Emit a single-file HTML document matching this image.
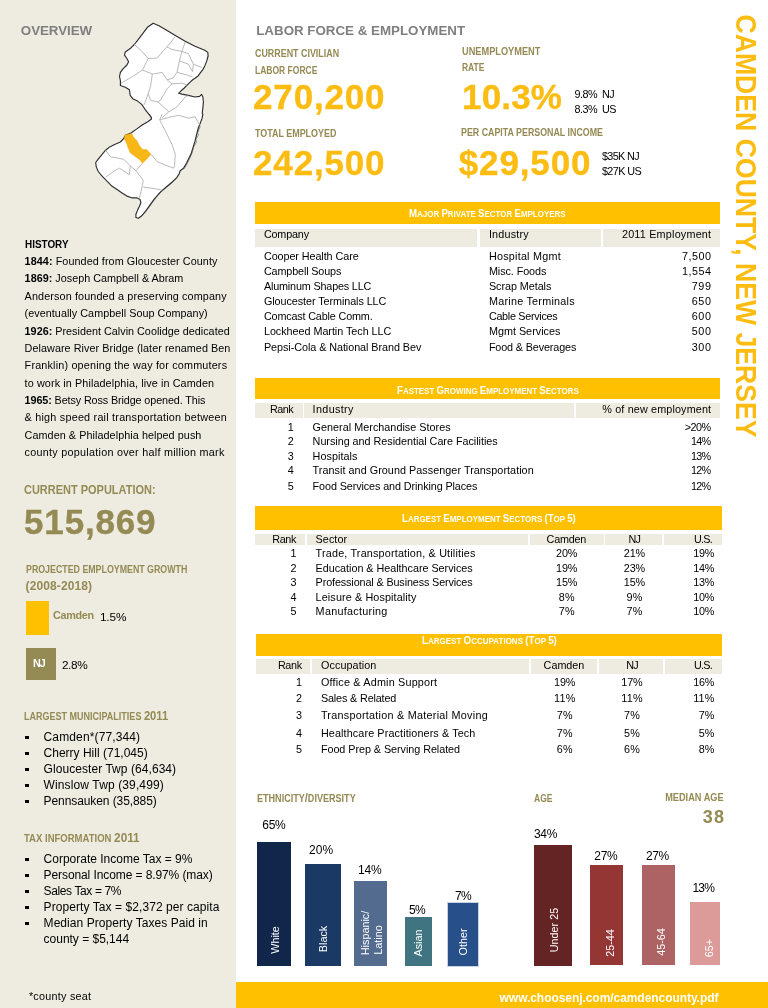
<!DOCTYPE html>
<html lang="en"><head><meta charset="utf-8"><title>Camden County, New Jersey</title>
<style>
html,body{margin:0;padding:0;}
body{width:768px;height:1008px;position:relative;overflow:hidden;background:#fff;font-family:'Liberation Sans',sans-serif;}
.b{position:absolute;}
.t{position:absolute;white-space:pre;line-height:1;}
.bt{color:#fff;font-weight:700;font-size:9.3px;text-align:center;letter-spacing:-0.1px;}
.r{transform:translate(-50%,-50%) rotate(-90deg);}
.vt{left:744.7px;top:226.3px;font-size:29px;font-weight:700;color:#FCBC12;transform:translate(-50%,-50%) rotate(90deg) scaleX(0.918);}
</style></head>
<body>
<div class="b" style="left:0.00px;top:0.00px;width:236.00px;height:1008.00px;background:#EEECE1;"></div>
<div class="b" style="left:236.00px;top:982.30px;width:532.00px;height:25.70px;background:#FFC000;"></div>
<div class="b" style="left:26.00px;top:601.00px;width:23.30px;height:34.00px;background:#FFC000;"></div>
<div class="b" style="left:26.00px;top:648.00px;width:30.00px;height:32.00px;background:#948A54;"></div>
<div class="b" style="left:25.30px;top:735.50px;width:3.30px;height:3.30px;background:#000;"></div>
<div class="b" style="left:25.30px;top:751.50px;width:3.30px;height:3.30px;background:#000;"></div>
<div class="b" style="left:25.30px;top:767.80px;width:3.30px;height:3.30px;background:#000;"></div>
<div class="b" style="left:25.30px;top:783.80px;width:3.30px;height:3.30px;background:#000;"></div>
<div class="b" style="left:25.30px;top:799.50px;width:3.30px;height:3.30px;background:#000;"></div>
<div class="b" style="left:25.30px;top:857.50px;width:3.30px;height:3.30px;background:#000;"></div>
<div class="b" style="left:25.30px;top:873.50px;width:3.30px;height:3.30px;background:#000;"></div>
<div class="b" style="left:25.30px;top:889.50px;width:3.30px;height:3.30px;background:#000;"></div>
<div class="b" style="left:25.30px;top:905.80px;width:3.30px;height:3.30px;background:#000;"></div>
<div class="b" style="left:25.30px;top:921.50px;width:3.30px;height:3.30px;background:#000;"></div>
<div class="b" style="left:255.00px;top:202.10px;width:465.00px;height:22.20px;background:#FFC000;"></div>
<div class="b" style="left:255.00px;top:377.90px;width:465.00px;height:21.50px;background:#FFC000;"></div>
<div class="b" style="left:255.00px;top:506.30px;width:467.00px;height:23.30px;background:#FFC000;"></div>
<div class="b" style="left:256.00px;top:634.00px;width:466.00px;height:21.60px;background:#FFC000;"></div>
<div class="b" style="left:255.00px;top:228.70px;width:222.30px;height:18.80px;background:#EEECE1;"></div>
<div class="b" style="left:479.70px;top:228.70px;width:121.60px;height:18.80px;background:#EEECE1;"></div>
<div class="b" style="left:603.30px;top:228.70px;width:116.70px;height:18.80px;background:#EEECE1;"></div>
<div class="b" style="left:255.00px;top:403.30px;width:47.50px;height:15.00px;background:#EEECE1;"></div>
<div class="b" style="left:304.40px;top:403.30px;width:269.60px;height:15.00px;background:#EEECE1;"></div>
<div class="b" style="left:576.00px;top:403.30px;width:144.00px;height:15.00px;background:#EEECE1;"></div>
<div class="b" style="left:255.00px;top:533.80px;width:50.20px;height:11.40px;background:#EEECE1;"></div>
<div class="b" style="left:307.40px;top:533.80px;width:220.80px;height:11.40px;background:#EEECE1;"></div>
<div class="b" style="left:530.00px;top:533.80px;width:73.60px;height:11.40px;background:#EEECE1;"></div>
<div class="b" style="left:605.40px;top:533.80px;width:56.30px;height:11.40px;background:#EEECE1;"></div>
<div class="b" style="left:663.70px;top:533.80px;width:58.30px;height:11.40px;background:#EEECE1;"></div>
<div class="b" style="left:256.00px;top:659.40px;width:54.00px;height:14.60px;background:#EEECE1;"></div>
<div class="b" style="left:312.00px;top:659.40px;width:217.00px;height:14.60px;background:#EEECE1;"></div>
<div class="b" style="left:531.00px;top:659.40px;width:65.70px;height:14.60px;background:#EEECE1;"></div>
<div class="b" style="left:598.70px;top:659.40px;width:64.60px;height:14.60px;background:#EEECE1;"></div>
<div class="b" style="left:665.30px;top:659.40px;width:56.70px;height:14.60px;background:#EEECE1;"></div>
<div class="b" style="left:256.70px;top:842.00px;width:34.30px;height:123.70px;background:#12254A;"></div>
<div class="b" style="left:305.00px;top:864.00px;width:36.00px;height:101.70px;background:#1A3965;"></div>
<div class="b" style="left:354.30px;top:881.00px;width:33.00px;height:84.70px;background:#526B8F;"></div>
<div class="b" style="left:405.30px;top:917.30px;width:26.70px;height:48.40px;background:#3F7480;"></div>
<div class="b" style="left:447.70px;top:902.70px;width:30.60px;height:63.00px;background:#27508A;box-shadow:0 0 0 1px #c9d3e3;"></div>
<div class="b" style="left:534.00px;top:844.50px;width:37.70px;height:121.00px;background:#632423;"></div>
<div class="b" style="left:589.70px;top:864.70px;width:33.60px;height:100.80px;background:#943634;"></div>
<div class="b" style="left:641.70px;top:864.70px;width:33.60px;height:100.80px;background:#AD6364;"></div>
<div class="b" style="left:690.30px;top:901.70px;width:29.70px;height:63.80px;background:#DC9A98;"></div>
<svg class="b" style="left:90px;top:15px" width="126" height="210" viewBox="0 0 126 210"><polygon points="63.2,8.2 68.9,10.7 77.1,15.6 85.3,20.5 95.2,26.3 105.0,31.2 114.8,35.3 117.8,37.4 118.1,41.0 116.8,45.9 114.8,50.9 113.2,54.1 110.7,57.4 108.3,60.7 105.0,63.2 103.0,64.5 100.4,66.9 97.6,69.7 94.3,73.0 91.1,75.8 88.6,78.3 91.9,79.1 98.4,80.4 105.0,82.0 109.6,81.4 111.6,79.4 112.9,82.0 113.4,87.0 113.0,91.9 112.2,98.4 112.9,99.1 112.1,103.2 110.3,108.1 108.3,113.0 106.6,119.6 105.0,126.2 103.0,132.7 100.9,139.3 98.4,144.2 96.0,149.1 93.5,153.2 90.2,155.7 89.4,158.2 87.0,162.3 82.0,167.2 77.1,171.3 72.2,175.4 68.1,179.5 64.0,184.4 59.9,190.2 55.8,195.9 51.7,200.8 48.4,203.3 45.9,202.5 45.9,199.2 47.6,195.1 49.2,191.8 50.9,187.7 50.0,184.4 46.8,182.8 41.8,182.8 36.9,181.1 32.0,177.9 27.1,174.6 22.1,171.3 17.2,166.4 12.3,161.4 8.2,156.5 6.2,151.6 5.7,147.5 8.2,144.2 11.5,140.1 15.6,135.2 19.7,131.9 24.6,129.5 30.4,127.0 33.6,123.7 35.3,120.4 41.0,118.0 46.8,113.9 52.5,109.8 58.2,106.5 61.5,104.0 61.0,101.9 59.4,99.6 61.5,102.5 58.2,98.4 55.0,94.3 51.7,89.4 47.6,86.1 42.7,83.7 40.2,80.4 39.4,74.7 35.3,72.2 30.4,70.5 30.4,65.6 29.5,61.5 30.4,57.4 32.8,54.1 36.9,50.0 38.6,46.8 36.9,43.5 34.5,40.2 35.3,36.9 40.2,33.6 44.3,29.5 47.6,25.4 52.5,18.9 57.4,12.3" fill="#fff" stroke="#2e2e2e" stroke-width="1.15" stroke-linejoin="round"/><g fill="none" stroke="#a8a8a8" stroke-width="0.8"><polyline points="44.3,29.5 50.9,35.3 58.2,43.5 67.3,43.0 73.8,35.3 80.4,27.9 85.3,21.3"/><polyline points="58.2,43.5 52.5,55.0 42.7,61.5 31.2,68.1"/><polyline points="77.1,32.0 82.0,34.5 91.9,36.4 95.2,27.1"/><polyline points="91.9,36.4 98.4,38.6 103.4,49.2 102.5,56.6"/><polyline points="91.9,36.4 89.4,45.9 87.0,57.4 82.9,63.2 77.1,64.8"/><polyline points="52.5,55.0 62.3,59.1 72.2,57.4 77.1,64.8 82.0,68.9"/><polyline points="89.4,45.9 98.4,49.2 102.5,56.6"/><polyline points="87.0,57.4 96.8,59.9 102.5,62.0"/><polyline points="62.3,59.1 60.7,70.5 58.2,78.8 60.7,85.3 68.1,87.0"/><polyline points="58.2,78.8 54.1,89.9"/><polyline points="82.0,68.9 77.1,73.8 70.5,85.3 68.1,87.0"/><polyline points="68.1,87.0 78.8,96.8 87.0,91.9 95.2,82.0 98.4,80.4"/><polyline points="78.8,96.8 72.2,102.5"/><polyline points="82.0,68.9 91.9,68.1 97.1,70.1"/><polyline points="103.4,49.2 111.6,52.5"/><polyline points="72.2,99.1 69.7,104.8 75.5,116.3 82.0,129.5 85.3,139.3 84.5,150.8 83.7,153.2"/><polyline points="69.7,104.8 78.8,102.4 88.6,100.3 98.4,103.2 105.0,101.6 109.6,109.8"/><polyline points="61.0,139.3 67.3,146.7 77.1,150.8 83.7,153.2"/><polyline points="15.6,135.2 20.5,141.8 33.6,144.2 40.2,150.8 39.4,159.8"/><polyline points="39.4,159.8 29.5,153.2 24.6,155.7 15.6,162.3"/><polyline points="52.5,148.3 45.9,155.7 53.3,165.5 51.7,173.8 49.2,183.6"/><polyline points="40.2,150.8 45.9,155.7"/><polyline points="53.3,172.1 65.6,173.8 72.2,175.4"/></g><polygon points="34.8,119.9 41.8,118.5 43.5,122.1 46.8,125.4 49.2,130.3 52.5,134.4 56.6,134.4 61.0,139.3 56.6,144.2 52.5,148.3 49.2,144.2 44.3,140.9 40.2,137.7 38.1,132.7 36.4,127.8 34.5,124.5" fill="#F8B716" stroke="#E9AE25" stroke-width="0.5"/><g fill="none" stroke="#3c3c3c" stroke-width="0.5"><polyline points="110.3,111.4 107.5,118.0 108.6,119.6 105.8,124.5 106.6,127.0 103.7,131.9 102.1,138.0 99.4,144.2 96.8,149.5 93.8,154.1"/><polyline points="89.4,159.3 85.3,164.7 80.4,169.2 75.5,173.4 70.5,177.4 66.4,182.3 62.3,187.7 58.2,193.4 54.1,198.7 50.0,202.0"/></g></svg>
<div class="t" style="top:24.09px;font-size:13.33px;letter-spacing:-0.037px;color:#7F7F7F;font-weight:700;left:20.83px;">OVERVIEW</div>
<div class="t" style="top:238.53px;font-size:11.2px;letter-spacing:0px;color:#000;font-weight:700;transform:scaleX(0.8855);transform-origin:left center;left:24.61px;">HISTORY</div>
<div class="t" style="top:255.69px;font-size:10.8px;letter-spacing:0.071px;color:#000;left:24.62px;"><span style="font-weight:700;">1844:</span> Founded from Gloucester County</div>
<div class="t" style="top:273.39px;font-size:10.8px;letter-spacing:0.011px;color:#000;left:24.62px;"><span style="font-weight:700;">1869:</span> Joseph Campbell &amp; Abram</div>
<div class="t" style="top:290.69px;font-size:10.8px;letter-spacing:0.127px;color:#000;left:24.62px;">Anderson founded a preserving company</div>
<div class="t" style="top:307.99px;font-size:10.8px;letter-spacing:0.037px;color:#000;left:24.62px;">(eventually Campbell Soup Company)</div>
<div class="t" style="top:325.69px;font-size:10.8px;letter-spacing:0.009px;color:#000;left:24.62px;"><span style="font-weight:700;">1926:</span> President Calvin Coolidge dedicated</div>
<div class="t" style="top:342.99px;font-size:10.8px;letter-spacing:0.059px;color:#000;left:24.62px;">Delaware River Bridge (later renamed Ben</div>
<div class="t" style="top:360.39px;font-size:10.8px;letter-spacing:0.179px;color:#000;left:24.62px;">Franklin) opening the way for commuters</div>
<div class="t" style="top:377.69px;font-size:10.8px;letter-spacing:0.105px;color:#000;left:24.62px;">to work in Philadelphia, live in Camden</div>
<div class="t" style="top:394.99px;font-size:10.8px;letter-spacing:-0.112px;color:#000;left:24.62px;"><span style="font-weight:700;">1965:</span> Betsy Ross Bridge opened. This</div>
<div class="t" style="top:412.39px;font-size:10.8px;letter-spacing:0.225px;color:#000;left:24.62px;">&amp; high speed rail transportation between</div>
<div class="t" style="top:429.69px;font-size:10.8px;letter-spacing:0.065px;color:#000;left:24.62px;">Camden &amp; Philadelphia helped push</div>
<div class="t" style="top:447.39px;font-size:10.8px;letter-spacing:0.259px;color:#000;left:24.62px;">county population over half million mark</div>
<div class="t" style="top:483.94px;font-size:12.4px;letter-spacing:0px;color:#948A54;font-weight:700;transform:scaleX(0.8863);transform-origin:left center;left:23.87px;">CURRENT POPULATION:</div>
<div class="t" style="top:504.20px;font-size:35px;letter-spacing:0.82px;color:#948A54;font-weight:700;-webkit-text-stroke:0.35px currentColor;left:24.07px;">515,869</div>
<div class="t" style="top:565.41px;font-size:10.0px;letter-spacing:0px;color:#948A54;font-weight:700;transform:scaleX(0.8824);transform-origin:left center;left:26.35px;">PROJECTED EMPLOYMENT GROWTH</div>
<div class="t" style="top:580.14px;font-size:12px;letter-spacing:0.115px;color:#948A54;font-weight:700;left:25.58px;">(2008-2018)</div>
<div class="t" style="top:609.99px;font-size:10.8px;letter-spacing:-0.291px;color:#948A54;font-weight:700;left:52.92px;">Camden</div>
<div class="t" style="top:611.74px;font-size:11.8px;letter-spacing:-0.122px;color:#000;left:99.89px;">1.5%</div>
<div class="t" style="top:657.72px;font-size:10.8px;letter-spacing:-0.9px;color:#fff;font-weight:700;left:32.92px;">NJ</div>
<div class="t" style="top:659.74px;font-size:11.8px;letter-spacing:-0.355px;color:#000;left:61.89px;">2.8%</div>
<div class="t" style="top:709.88px;font-size:12.4px;letter-spacing:0px;color:#948A54;font-weight:700;transform:scaleX(0.9004);transform-origin:left center;left:23.95px;"><span style="font-size:10.0px;">LARGEST MUNICIPALITIES </span>2011</div>
<div class="t" style="top:730.80px;font-size:12px;letter-spacing:0.129px;color:#000;left:43.58px;">Camden*(77,344)</div>
<div class="t" style="top:746.80px;font-size:12px;letter-spacing:0.005px;color:#000;left:43.58px;">Cherry Hill (71,045)</div>
<div class="t" style="top:763.10px;font-size:12px;letter-spacing:0.061px;color:#000;left:43.58px;">Gloucester Twp (64,634)</div>
<div class="t" style="top:779.10px;font-size:12px;letter-spacing:0.122px;color:#000;left:43.58px;">Winslow Twp (39,499)</div>
<div class="t" style="top:794.80px;font-size:12px;letter-spacing:-0.089px;color:#000;left:43.58px;">Pennsauken (35,885)</div>
<div class="t" style="top:831.88px;font-size:12.4px;letter-spacing:0px;color:#948A54;font-weight:700;transform:scaleX(0.9521);transform-origin:left center;left:23.95px;"><span style="font-size:10.0px;">TAX INFORMATION </span>2011</div>
<div class="t" style="top:852.80px;font-size:12px;letter-spacing:-0.001px;color:#000;left:43.58px;">Corporate Income Tax = 9%</div>
<div class="t" style="top:868.80px;font-size:12px;letter-spacing:-0.093px;color:#000;left:43.58px;">Personal Income = 8.97% (max)</div>
<div class="t" style="top:884.80px;font-size:12px;letter-spacing:-0.384px;color:#000;left:43.58px;">Sales Tax = 7%</div>
<div class="t" style="top:901.10px;font-size:12px;letter-spacing:0.073px;color:#000;left:43.58px;">Property Tax = $2,372 per capita</div>
<div class="t" style="top:916.80px;font-size:12px;letter-spacing:0.057px;color:#000;left:43.58px;">Median Property Taxes Paid in</div>
<div class="t" style="top:932.80px;font-size:12px;letter-spacing:-0.014px;color:#000;left:43.58px;">county = $5,144</div>
<div class="t" style="top:990.69px;font-size:10.8px;letter-spacing:0.249px;color:#000;left:28.92px;">*county seat</div>
<div class="t" style="top:24.09px;font-size:13.33px;letter-spacing:0.005px;color:#7F7F7F;font-weight:700;left:256.23px;">LABOR FORCE &amp; EMPLOYMENT</div>
<div class="t" style="top:49.41px;font-size:10.0px;letter-spacing:0px;color:#948A54;font-weight:700;transform:scaleX(0.8904);transform-origin:left center;left:254.95px;">CURRENT CIVILIAN</div>
<div class="t" style="top:65.81px;font-size:10.0px;letter-spacing:0px;color:#948A54;font-weight:700;transform:scaleX(0.8508);transform-origin:left center;left:254.95px;">LABOR FORCE</div>
<div class="t" style="top:79.20px;font-size:35px;letter-spacing:0.82px;color:#FCBC12;font-weight:700;-webkit-text-stroke:0.35px currentColor;left:253.08px;">270,200</div>
<div class="t" style="top:129.42px;font-size:10.0px;letter-spacing:0px;color:#948A54;font-weight:700;transform:scaleX(0.8933);transform-origin:left center;left:254.95px;">TOTAL EMPLOYED</div>
<div class="t" style="top:145.20px;font-size:35px;letter-spacing:0.82px;color:#FCBC12;font-weight:700;-webkit-text-stroke:0.35px currentColor;left:253.08px;">242,500</div>
<div class="t" style="top:46.81px;font-size:10.0px;letter-spacing:0px;color:#948A54;font-weight:700;transform:scaleX(0.9224);transform-origin:left center;left:461.95px;">UNEMPLOYMENT</div>
<div class="t" style="top:62.81px;font-size:10.0px;letter-spacing:0px;color:#948A54;font-weight:700;transform:scaleX(0.8458);transform-origin:left center;left:461.95px;">RATE</div>
<div class="t" style="top:79.20px;font-size:35px;letter-spacing:0.15px;color:#FCBC12;font-weight:700;-webkit-text-stroke:0.35px currentColor;left:462.07px;">10.3%</div>
<div class="t" style="top:88.72px;font-size:10.8px;letter-spacing:-0.537px;color:#000;left:574.62px;">9.8%  NJ</div>
<div class="t" style="top:103.72px;font-size:10.8px;letter-spacing:-0.55px;color:#000;left:574.62px;">8.3%  US</div>
<div class="t" style="top:128.42px;font-size:10.0px;letter-spacing:0px;color:#948A54;font-weight:700;transform:scaleX(0.8853);transform-origin:left center;left:461.35px;">PER CAPITA PERSONAL INCOME</div>
<div class="t" style="top:145.20px;font-size:35px;letter-spacing:0.87px;color:#FCBC12;font-weight:700;-webkit-text-stroke:0.35px currentColor;left:458.77px;">$29,500</div>
<div class="t" style="top:151.02px;font-size:10.8px;letter-spacing:-0.611px;color:#000;left:601.92px;">$35K NJ</div>
<div class="t" style="top:165.72px;font-size:10.8px;letter-spacing:-0.577px;color:#000;left:601.92px;">$27K US</div>
<div class="t" style="top:229.49px;font-size:10.8px;letter-spacing:-0.177px;color:#000;left:263.92px;">Company</div>
<div class="t" style="top:229.49px;font-size:10.8px;letter-spacing:0.193px;color:#000;left:488.92px;">Industry</div>
<div class="t" style="top:229.49px;font-size:10.8px;letter-spacing:0.209px;color:#000;right:56.71px;">2011 Employment</div>
<div class="t" style="top:250.99px;font-size:10.8px;letter-spacing:-0.075px;color:#000;left:263.92px;">Cooper Health Care</div>
<div class="t" style="top:250.99px;font-size:10.8px;letter-spacing:0.23px;color:#000;left:488.92px;">Hospital Mgmt</div>
<div class="t" style="top:251.02px;font-size:10.8px;letter-spacing:0.531px;color:#000;right:56.39px;">7,500</div>
<div class="t" style="top:265.99px;font-size:10.8px;letter-spacing:-0.137px;color:#000;left:263.92px;">Campbell Soups</div>
<div class="t" style="top:265.99px;font-size:10.8px;letter-spacing:-0.075px;color:#000;left:488.92px;">Misc. Foods</div>
<div class="t" style="top:266.02px;font-size:10.8px;letter-spacing:0.531px;color:#000;right:56.39px;">1,554</div>
<div class="t" style="top:280.89px;font-size:10.8px;letter-spacing:-0.166px;color:#000;left:263.92px;">Aluminum Shapes LLC</div>
<div class="t" style="top:280.89px;font-size:10.8px;letter-spacing:-0.051px;color:#000;left:488.92px;">Scrap Metals</div>
<div class="t" style="top:280.92px;font-size:10.8px;letter-spacing:0.72px;color:#000;right:56.20px;">799</div>
<div class="t" style="top:295.79px;font-size:10.8px;letter-spacing:-0.068px;color:#000;left:263.92px;">Gloucester Terminals LLC</div>
<div class="t" style="top:295.79px;font-size:10.8px;letter-spacing:0.249px;color:#000;left:488.92px;">Marine Terminals</div>
<div class="t" style="top:295.82px;font-size:10.8px;letter-spacing:0.72px;color:#000;right:56.20px;">650</div>
<div class="t" style="top:310.69px;font-size:10.8px;letter-spacing:-0.159px;color:#000;left:263.92px;">Comcast Cable Comm.</div>
<div class="t" style="top:310.69px;font-size:10.8px;letter-spacing:-0.298px;color:#000;left:488.92px;">Cable Services</div>
<div class="t" style="top:310.72px;font-size:10.8px;letter-spacing:0.72px;color:#000;right:56.20px;">600</div>
<div class="t" style="top:325.69px;font-size:10.8px;letter-spacing:-0.035px;color:#000;left:263.92px;">Lockheed Martin Tech LLC</div>
<div class="t" style="top:325.69px;font-size:10.8px;letter-spacing:0.004px;color:#000;left:488.92px;">Mgmt Services</div>
<div class="t" style="top:325.72px;font-size:10.8px;letter-spacing:0.72px;color:#000;right:56.20px;">500</div>
<div class="t" style="top:341.99px;font-size:10.8px;letter-spacing:-0.053px;color:#000;left:263.92px;">Pepsi-Cola &amp; National Brand Bev</div>
<div class="t" style="top:341.99px;font-size:10.8px;letter-spacing:-0.132px;color:#000;left:488.92px;">Food &amp; Beverages</div>
<div class="t" style="top:342.02px;font-size:10.8px;letter-spacing:0.72px;color:#000;right:56.20px;">300</div>
<div class="t" style="top:404.19px;font-size:10.8px;letter-spacing:-0.488px;color:#000;left:269.92px;">Rank</div>
<div class="t" style="top:404.19px;font-size:10.8px;letter-spacing:0.336px;color:#000;left:312.62px;">Industry</div>
<div class="t" style="top:404.19px;font-size:10.8px;letter-spacing:0.141px;color:#000;right:56.78px;">% of new employment</div>
<div class="t" style="top:421.72px;font-size:10.8px;letter-spacing:0px;color:#000;right:474.32px;">1</div>
<div class="t" style="top:421.69px;font-size:10.8px;letter-spacing:0.025px;color:#000;left:312.62px;">General Merchandise Stores</div>
<div class="t" style="top:421.72px;font-size:10.8px;letter-spacing:-0.489px;color:#000;right:57.41px;">&gt;20%</div>
<div class="t" style="top:435.72px;font-size:10.8px;letter-spacing:0px;color:#000;right:474.32px;">2</div>
<div class="t" style="top:435.69px;font-size:10.8px;letter-spacing:-0.026px;color:#000;left:312.62px;">Nursing and Residential Care Facilities</div>
<div class="t" style="top:435.72px;font-size:10.8px;letter-spacing:-0.734px;color:#000;right:57.66px;">14%</div>
<div class="t" style="top:451.02px;font-size:10.8px;letter-spacing:0px;color:#000;right:474.32px;">3</div>
<div class="t" style="top:450.99px;font-size:10.8px;letter-spacing:0.044px;color:#000;left:312.62px;">Hospitals</div>
<div class="t" style="top:451.02px;font-size:10.8px;letter-spacing:-0.734px;color:#000;right:57.66px;">13%</div>
<div class="t" style="top:465.02px;font-size:10.8px;letter-spacing:0px;color:#000;right:474.32px;">4</div>
<div class="t" style="top:464.99px;font-size:10.8px;letter-spacing:0.043px;color:#000;left:312.62px;">Transit and Ground Passenger Transportation</div>
<div class="t" style="top:465.02px;font-size:10.8px;letter-spacing:-0.734px;color:#000;right:57.66px;">12%</div>
<div class="t" style="top:480.72px;font-size:10.8px;letter-spacing:0px;color:#000;right:474.32px;">5</div>
<div class="t" style="top:480.69px;font-size:10.8px;letter-spacing:-0.103px;color:#000;left:312.62px;">Food Services and Drinking Places</div>
<div class="t" style="top:480.72px;font-size:10.8px;letter-spacing:-0.734px;color:#000;right:57.66px;">12%</div>
<div class="t" style="top:534.29px;font-size:10.8px;letter-spacing:-0.388px;color:#000;left:272.32px;">Rank</div>
<div class="t" style="top:534.29px;font-size:10.8px;letter-spacing:0.047px;color:#000;left:315.62px;">Sector</div>
<div class="t" style="top:534.29px;font-size:10.8px;letter-spacing:-0.211px;color:#000;left:546.62px;">Camden</div>
<div class="t" style="top:534.32px;font-size:10.8px;letter-spacing:-0.9px;color:#000;left:628.62px;">NJ</div>
<div class="t" style="top:534.32px;font-size:10.8px;letter-spacing:-0.748px;color:#000;left:693.92px;">U.S.</div>
<div class="t" style="top:547.72px;font-size:10.8px;letter-spacing:0px;color:#000;right:471.62px;">1</div>
<div class="t" style="top:547.69px;font-size:10.8px;letter-spacing:0.18px;color:#000;left:315.62px;">Trade, Transportation, &amp; Utilities</div>
<div class="t" style="top:547.72px;font-size:10.8px;letter-spacing:-0.184px;color:#000;left:556.07px;">20%</div>
<div class="t" style="top:547.72px;font-size:10.8px;letter-spacing:-0.184px;color:#000;left:623.87px;">21%</div>
<div class="t" style="top:547.72px;font-size:10.8px;letter-spacing:-0.184px;color:#000;right:53.81px;">19%</div>
<div class="t" style="top:562.72px;font-size:10.8px;letter-spacing:0px;color:#000;right:471.62px;">2</div>
<div class="t" style="top:562.69px;font-size:10.8px;letter-spacing:-0.026px;color:#000;left:315.62px;">Education &amp; Healthcare Services</div>
<div class="t" style="top:562.72px;font-size:10.8px;letter-spacing:-0.184px;color:#000;left:556.07px;">19%</div>
<div class="t" style="top:562.72px;font-size:10.8px;letter-spacing:-0.184px;color:#000;left:623.87px;">23%</div>
<div class="t" style="top:562.72px;font-size:10.8px;letter-spacing:-0.184px;color:#000;right:53.81px;">14%</div>
<div class="t" style="top:576.72px;font-size:10.8px;letter-spacing:0px;color:#000;right:471.62px;">3</div>
<div class="t" style="top:576.69px;font-size:10.8px;letter-spacing:-0.122px;color:#000;left:315.62px;">Professional &amp; Business Services</div>
<div class="t" style="top:576.72px;font-size:10.8px;letter-spacing:-0.184px;color:#000;left:556.07px;">15%</div>
<div class="t" style="top:576.72px;font-size:10.8px;letter-spacing:-0.184px;color:#000;left:623.87px;">15%</div>
<div class="t" style="top:576.72px;font-size:10.8px;letter-spacing:-0.184px;color:#000;right:53.81px;">13%</div>
<div class="t" style="top:591.72px;font-size:10.8px;letter-spacing:0px;color:#000;right:471.62px;">4</div>
<div class="t" style="top:591.69px;font-size:10.8px;letter-spacing:0.117px;color:#000;left:315.62px;">Leisure &amp; Hospitality</div>
<div class="t" style="top:591.72px;font-size:10.8px;letter-spacing:0.147px;color:#000;left:558.82px;">8%</div>
<div class="t" style="top:591.72px;font-size:10.8px;letter-spacing:0.147px;color:#000;left:626.62px;">9%</div>
<div class="t" style="top:591.72px;font-size:10.8px;letter-spacing:-0.184px;color:#000;right:53.81px;">10%</div>
<div class="t" style="top:605.72px;font-size:10.8px;letter-spacing:0px;color:#000;right:471.62px;">5</div>
<div class="t" style="top:605.69px;font-size:10.8px;letter-spacing:0.278px;color:#000;left:315.62px;">Manufacturing</div>
<div class="t" style="top:605.72px;font-size:10.8px;letter-spacing:0.147px;color:#000;left:558.82px;">7%</div>
<div class="t" style="top:605.72px;font-size:10.8px;letter-spacing:0.147px;color:#000;left:626.62px;">7%</div>
<div class="t" style="top:605.72px;font-size:10.8px;letter-spacing:-0.184px;color:#000;right:53.81px;">10%</div>
<div class="t" style="top:660.29px;font-size:10.8px;letter-spacing:-0.354px;color:#000;left:277.92px;">Rank</div>
<div class="t" style="top:660.29px;font-size:10.8px;letter-spacing:0.092px;color:#000;left:320.92px;">Occupation</div>
<div class="t" style="top:660.29px;font-size:10.8px;letter-spacing:-0.011px;color:#000;left:543.62px;">Camden</div>
<div class="t" style="top:660.32px;font-size:10.8px;letter-spacing:-0.9px;color:#000;left:626.32px;">NJ</div>
<div class="t" style="top:660.32px;font-size:10.8px;letter-spacing:-0.748px;color:#000;left:693.92px;">U.S.</div>
<div class="t" style="top:677.02px;font-size:10.8px;letter-spacing:0px;color:#000;right:465.92px;">1</div>
<div class="t" style="top:676.99px;font-size:10.8px;letter-spacing:0.196px;color:#000;left:320.92px;">Office &amp; Admin Support</div>
<div class="t" style="top:677.02px;font-size:10.8px;letter-spacing:-0.184px;color:#000;left:554.07px;">19%</div>
<div class="t" style="top:677.02px;font-size:10.8px;letter-spacing:-0.184px;color:#000;left:621.37px;">17%</div>
<div class="t" style="top:677.02px;font-size:10.8px;letter-spacing:-0.184px;color:#000;right:53.81px;">16%</div>
<div class="t" style="top:693.02px;font-size:10.8px;letter-spacing:0px;color:#000;right:465.92px;">2</div>
<div class="t" style="top:692.99px;font-size:10.8px;letter-spacing:-0.142px;color:#000;left:320.92px;">Sales &amp; Related</div>
<div class="t" style="top:693.02px;font-size:10.8px;letter-spacing:0.222px;color:#000;left:554.07px;">11%</div>
<div class="t" style="top:693.02px;font-size:10.8px;letter-spacing:0.222px;color:#000;left:621.37px;">11%</div>
<div class="t" style="top:693.02px;font-size:10.8px;letter-spacing:0.222px;color:#000;right:53.40px;">11%</div>
<div class="t" style="top:710.02px;font-size:10.8px;letter-spacing:0px;color:#000;right:465.92px;">3</div>
<div class="t" style="top:709.99px;font-size:10.8px;letter-spacing:0.262px;color:#000;left:320.92px;">Transportation &amp; Material Moving</div>
<div class="t" style="top:710.02px;font-size:10.8px;letter-spacing:0.147px;color:#000;left:556.82px;">7%</div>
<div class="t" style="top:710.02px;font-size:10.8px;letter-spacing:0.147px;color:#000;left:624.12px;">7%</div>
<div class="t" style="top:710.02px;font-size:10.8px;letter-spacing:0.147px;color:#000;right:53.48px;">7%</div>
<div class="t" style="top:727.72px;font-size:10.8px;letter-spacing:0px;color:#000;right:465.92px;">4</div>
<div class="t" style="top:727.69px;font-size:10.8px;letter-spacing:0.114px;color:#000;left:320.92px;">Healthcare Practitioners &amp; Tech</div>
<div class="t" style="top:727.72px;font-size:10.8px;letter-spacing:0.147px;color:#000;left:556.82px;">7%</div>
<div class="t" style="top:727.72px;font-size:10.8px;letter-spacing:0.147px;color:#000;left:624.12px;">5%</div>
<div class="t" style="top:727.72px;font-size:10.8px;letter-spacing:0.147px;color:#000;right:53.48px;">5%</div>
<div class="t" style="top:743.72px;font-size:10.8px;letter-spacing:0px;color:#000;right:465.92px;">5</div>
<div class="t" style="top:743.69px;font-size:10.8px;letter-spacing:-0.05px;color:#000;left:320.92px;">Food Prep &amp; Serving Related</div>
<div class="t" style="top:743.72px;font-size:10.8px;letter-spacing:0.147px;color:#000;left:556.82px;">6%</div>
<div class="t" style="top:743.72px;font-size:10.8px;letter-spacing:0.147px;color:#000;left:624.12px;">6%</div>
<div class="t" style="top:743.72px;font-size:10.8px;letter-spacing:0.147px;color:#000;right:53.48px;">8%</div>
<div class="t" style="top:791.72px;font-size:12px;letter-spacing:0px;color:#948A54;font-weight:700;transform:scaleX(0.9062);transform-origin:left center;left:256.65px;"><span style="font-size:10.0px;">ETHNICITY</span>/<span style="font-size:10.0px;">DIVERSITY</span></div>
<div class="t" style="top:794.41px;font-size:10.0px;letter-spacing:0px;color:#948A54;font-weight:700;transform:scaleX(0.849);transform-origin:left center;left:533.95px;">AGE</div>
<div class="t" style="top:793.41px;font-size:10.0px;letter-spacing:0px;color:#948A54;font-weight:700;transform:scaleX(0.9177);transform-origin:right center;right:44.35px;">MEDIAN AGE</div>
<div class="t" style="top:807.91px;font-size:18px;letter-spacing:1.229px;color:#948A54;font-weight:700;right:42.84px;">38</div>
<div class="t" style="top:819.14px;font-size:12px;letter-spacing:-0.296px;color:#000;left:262.28px;">65%</div>
<div class="t" style="top:844.14px;font-size:12px;letter-spacing:0.104px;color:#000;left:308.88px;">20%</div>
<div class="t" style="top:864.14px;font-size:12px;letter-spacing:-0.096px;color:#000;left:357.88px;">14%</div>
<div class="t" style="top:904.14px;font-size:12px;letter-spacing:-0.504px;color:#000;left:408.88px;">5%</div>
<div class="t" style="top:889.84px;font-size:12px;letter-spacing:-0.504px;color:#000;left:454.88px;">7%</div>
<div class="t" style="top:828.14px;font-size:12px;letter-spacing:-0.246px;color:#000;left:533.88px;">34%</div>
<div class="t" style="top:849.64px;font-size:12px;letter-spacing:-0.296px;color:#000;left:594.28px;">27%</div>
<div class="t" style="top:849.64px;font-size:12px;letter-spacing:-0.396px;color:#000;left:645.88px;">27%</div>
<div class="t" style="top:882.44px;font-size:12px;letter-spacing:-0.9px;color:#000;left:692.58px;">13%</div>
<div class="t" style="top:992.00px;font-size:12px;letter-spacing:-0.058px;color:#fff;font-weight:700;right:49.64px;">www.choosenj.com/camdencounty.pdf</div>
<div class="t" style="top:207.68px;font-size:11.3px;letter-spacing:0px;color:#fff;font-weight:700;transform:scaleX(0.856);transform-origin:left center;left:409.30px;">M<span style="font-size:9.3px;">AJOR </span>P<span style="font-size:9.3px;">RIVATE </span>S<span style="font-size:9.3px;">ECTOR </span>E<span style="font-size:9.3px;">MPLOYERS</span></div>
<div class="t" style="top:385.28px;font-size:11.3px;letter-spacing:0px;color:#fff;font-weight:700;transform:scaleX(0.8556);transform-origin:left center;left:396.90px;">F<span style="font-size:9.3px;">ASTEST </span>G<span style="font-size:9.3px;">ROWING </span>E<span style="font-size:9.3px;">MPLOYMENT </span>S<span style="font-size:9.3px;">ECTORS</span></div>
<div class="t" style="top:513.28px;font-size:11.3px;letter-spacing:0px;color:#fff;font-weight:700;transform:scaleX(0.8559);transform-origin:left center;left:401.90px;">L<span style="font-size:9.3px;">ARGEST </span>E<span style="font-size:9.3px;">MPLOYMENT </span>S<span style="font-size:9.3px;">ECTORS </span>(T<span style="font-size:9.3px;">OP </span>5)</div>
<div class="t" style="top:635.38px;font-size:11.3px;letter-spacing:0px;color:#fff;font-weight:700;transform:scaleX(0.8625);transform-origin:left center;left:421.60px;">L<span style="font-size:9.3px;">ARGEST </span>O<span style="font-size:9.3px;">CCUPATIONS </span>(T<span style="font-size:9.3px;">OP </span>5)</div>
<div class="t r" style="left:275.30px;top:939.65px;font-size:10.8px;color:#fff;">White</div>
<div class="t r" style="left:323.30px;top:939.20px;font-size:10.8px;color:#fff;">Black</div>
<div class="t r" style="left:364.90px;top:932.85px;font-size:10.8px;color:#fff;">Hispanic/</div>
<div class="t r" style="left:377.70px;top:940.35px;font-size:10.8px;color:#fff;">Latino</div>
<div class="t r" style="left:417.70px;top:943.35px;font-size:10.8px;color:#fff;">Asian</div>
<div class="t r" style="left:462.70px;top:942.00px;font-size:10.8px;color:#fff;">Other</div>
<div class="t r" style="left:554.30px;top:930.00px;font-size:10.8px;color:#fff;">Under 25</div>
<div class="t r" style="left:609.70px;top:942.65px;font-size:10.8px;color:#fff;">25-44</div>
<div class="t r" style="left:660.70px;top:942.15px;font-size:10.8px;color:#fff;">45-64</div>
<div class="t r" style="left:708.70px;top:948.00px;font-size:10.8px;color:#fff;">65+</div>
<div class="t vt">CAMDEN COUNTY, NEW JERSEY</div>
</body></html>
